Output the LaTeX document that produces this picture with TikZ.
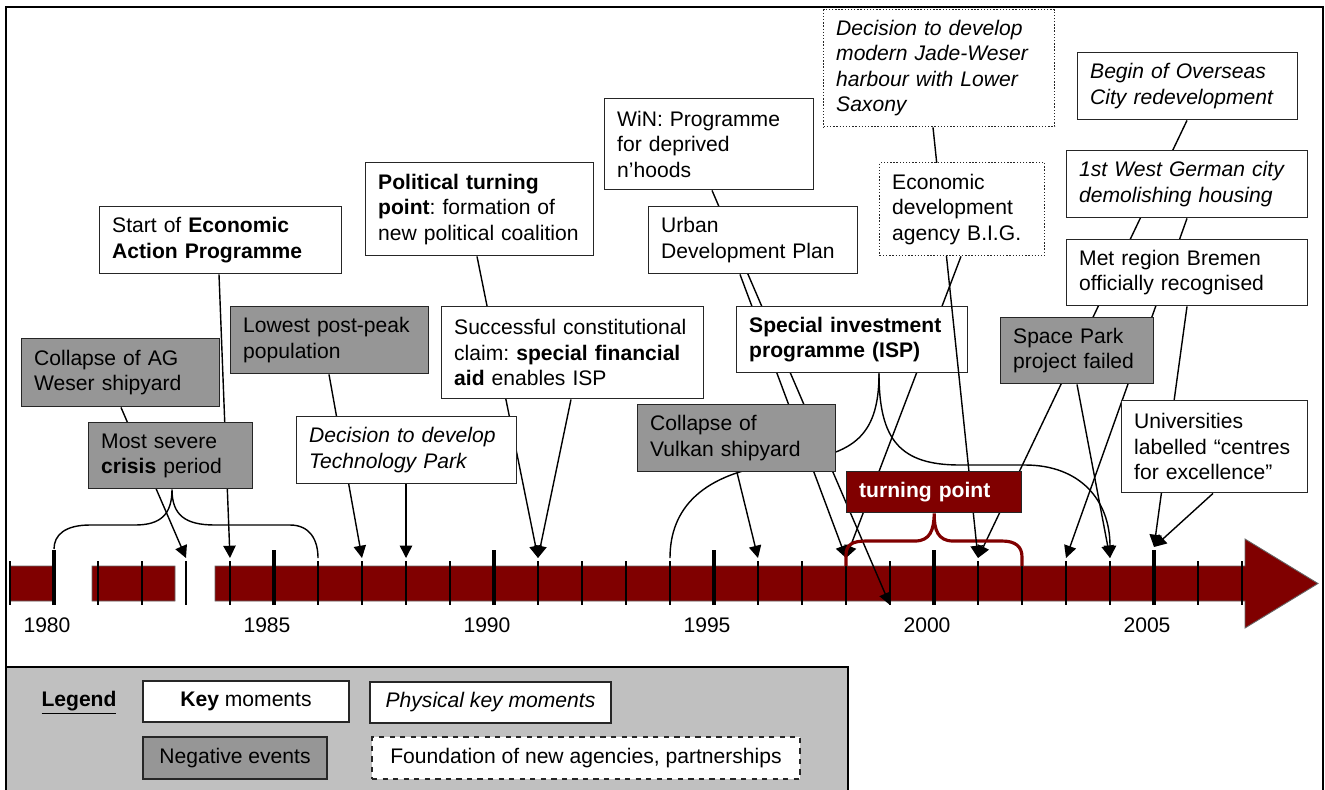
\documentclass[tikz,border=0pt]{standalone}
\usepackage{fontspec}
\setmainfont{Liberation Sans}
\usetikzlibrary{arrows.meta}
\definecolor{barred}{HTML}{800000}
\definecolor{neggray}{HTML}{969696}
\definecolor{legendgray}{HTML}{C0C0C0}
\newcommand{\evtfont}{\frenchspacing\fontsize{12}{14.5}\selectfont}
\pgfdeclarelayer{timeline}
\pgfdeclarelayer{links}
\pgfsetlayers{timeline,links,main}

\begin{document}
\begin{tikzpicture}[>={Triangle[length=7pt,width=7pt]}, x=0.02cm, y=-0.02cm,
    evt/.style={draw=black!85, line width=0.8pt, anchor=north west, align=left,
      inner xsep=0.25cm, inner ysep=0pt, font=\evtfont},
    keybox/.style={evt, fill=white},
    physbox/.style={evt, fill=white, font=\evtfont\itshape},
    negbox/.style={evt, fill=neggray},
    agencybox/.style={evt, fill=white, densely dotted},
    turnbox/.style={evt, fill=barred, text=white, font=\evtfont\bfseries},
    sz/.style 2 args={text width=#1cm, minimum height=#2cm},
    link/.style={line width=0.8pt},
    turnbrace/.style={draw=barred, line width=1.8pt},
    yeartick/.style={line width=1.3pt},
    bigyeartick/.style={line width=2.6pt},
    yearlabel/.style={font=\evtfont}]

  \useasboundingbox (0,0) rectangle (1325,789);

  \begin{pgfonlayer}{timeline}
    \filldraw[fill=legendgray, draw=black, line width=0.8pt] (6,667) rectangle (848,800);
    \draw[line width=1.2pt] (6,7) rectangle (1323,800);
    \filldraw[fill=barred, draw=black!60, line width=0.5pt]
      (10,566) rectangle (54,601)
      (92,566) rectangle (175,601)
      (215,566) -- (1245,566) -- (1245,539) -- (1318,583.5) -- (1245,628) -- (1245,601) -- (215,601) -- cycle;
    \foreach \yr in {1979,...,2007} {
      \coordinate (top\yr) at ({54+44*(\yr-1980)},558);
      \coordinate (bot\yr) at ({54+44*(\yr-1980)},605);
      \coordinate (on\yr) at ({54+44*(\yr-1980)},566);
      \draw[yeartick] ({54+44*(\yr-1980)},561) -- (bot\yr);
    }
    \foreach \yr in {1980,1985,...,2005} {
      \draw[bigyeartick] ({54+44*(\yr-1980)},550) -- (bot\yr);
      \node[yearlabel] (lbl\yr) at ({47+44*(\yr-1980)},625) {\yr};
    }
    \coordinate (top1980) at (54,549);
    \coordinate (top2005) at (1154,547);
  \end{pgfonlayer}

  \node[negbox, sz={3.46}{1.36}] (AG) at (21,338) {Collapse of AG\\Weser shipyard};
  \node[negbox, sz={2.78}{1.32}] (crisis) at (88,422) {Most severe\\\textbf{crisis} period};
  \node[keybox, sz={4.34}{1.34}] (EAP) at (99,206) {Start of \textbf{Economic}\\\textbf{Action Programme}};
  \node[negbox, sz={3.46}{1.34}] (lowest) at (230,306) {Lowest post-peak\\population};
  \node[physbox, sz={3.90}{1.34}] (techpark) at (296,416) {Decision to develop\\Technology Park};
  \node[keybox, sz={4.06}{1.86}] (political) at (365,162) {\textbf{Political turning}\\\textbf{point}: formation of\\new political coalition};
  \node[keybox, sz={3.68}{1.82}] (win) at (604,98) {WiN: Programme\\for deprived\\n’hoods};
  \node[keybox, sz={3.68}{1.34}] (urban) at (648,206) {Urban\\Development Plan};
  \node[keybox, sz={4.74}{1.84}] (successful) at (441,306) {Successful constitutional\\claim: \textbf{special financial}\\\textbf{aid} enables ISP};
  \node[negbox, sz={3.46}{1.34}] (vulkan) at (637,404) {Collapse of\\Vulkan shipyard};
  \node[agencybox, font=\evtfont\itshape, sz={4.12}{2.34}] (jade) at (823,9) {Decision to develop\\modern Jade-Weser\\harbour with Lower\\Saxony};
  \node[physbox, sz={3.90}{1.34}] (overseas) at (1077,52) {Begin of Overseas\\City redevelopment};
  \node[physbox, sz={4.32}{1.34}] (westgerman) at (1066,150) {1st West German city\\demolishing housing};
  \node[keybox, sz={4.32}{1.32}] (metregion) at (1066,239) {Met region Bremen\\officially recognised};
  \node[negbox, sz={2.56}{1.32}] (spacepark) at (1000,317) {Space Park\\project failed};
  \node[keybox, sz={3.22}{1.84}] (universities) at (1121,400) {Universities\\labelled “centres\\for excellence”};
  \node[keybox, sz={4.12}{1.32}] (isp) at (736,306) {\textbf{Special investment}\\\textbf{programme (ISP)}};

  \draw[link,->] (933,0 |- jade.south) -- (top2001);

  \node[agencybox, sz={2.80}{1.86}] (big) at (879,162) {Economic\\development\\agency B.I.G.};
  \node[turnbox, sz={3.00}{0.82}] (turning) at (846,471) {turning point};

  \begin{pgfonlayer}{links}
    \draw[link,->] (121,0 |- AG.south) -- (top1983);
    \draw[link,->] (219,0 |- EAP.south) -- (top1984);
    \draw[link,->] (329,0 |- lowest.south) -- (top1987);
    \draw[link,->] (406,0 |- techpark.south) -- (top1988);
    \draw[link,->] (477,0 |- political.south) -- (top1991);
    \draw[link,->] (571,0 |- successful.south) -- (top1991);
    \draw[link,->] (737,0 |- vulkan.south) -- (top1996);
    \draw[link,->] (740,0 |- urban.south) -- (top1998);
    \draw[link,->] (712,0 |- win.south) -- (bot1999);
    \draw[link,->] (961,0 |- big.south) -- (top1998);
    \draw[link,->] (1187,0 |- overseas.south) -- (top2001);
    \draw[link,->] (1187,0 |- westgerman.south) -- (top2003);
    \draw[link,->] (1077,0 |- spacepark.south) -- (top2004);
    \draw[link,->] (1187,0 |- metregion.south) -- (top2005);
    \draw[link,->] (1213,0 |- universities.south) -- (top2005);

    \draw[link] (top1980) .. controls (54,535) and (65,525) .. (90,525) -- (135,525)
      .. controls (160,525) and (172,515) .. (172,0 |- crisis.south)
      .. controls (172,515) and (185,525) .. (215,525) -- (290,525)
      .. controls (310,525) and (318,540) .. (top1986);

    \draw[link] (879,0 |- isp.south) .. controls (879,440) and (850,455) .. (785,463)
      .. controls (700,472) and (670,510) .. (top1994);
    \draw[link,->] (879,0 |- isp.south) .. controls (879,440) and (900,465) .. (960,465) -- (1025,465)
      .. controls (1080,465) and (1110,500) .. (top2004);

    \draw[turnbrace] (on1998) -- (846,555) .. controls (846,545) and (852,541) .. (866,541) -- (915,541)
      .. controls (930,541) and (934,530) .. (turning.south)
      .. controls (934,530) and (938,541) .. (953,541) -- (1002,541)
      .. controls (1016,541) and (1022,547) .. (1022,557) -- (on2002);
  \end{pgfonlayer}

  \node[font=\evtfont] (lgtitle) at (79,703) {\underline{\textbf{Legend}}};
  \node[keybox, anchor=center, minimum width=4.12cm, minimum height=0.82cm] (lgkey) at (246,701.5) {\textbf{Key} moments};
  \node[physbox, anchor=center, minimum width=4.82cm, minimum height=0.82cm] (lgphys) at (490.5,702.5) {Physical key moments};
  \node[negbox, anchor=center, minimum width=3.68cm, minimum height=0.84cm] (lgneg) at (235,758) {Negative events};
  \node[evt, fill=white, dashed, anchor=center, minimum width=8.56cm, minimum height=0.84cm] (lgagency) at (586,758) {Foundation of new agencies, partnerships};
\end{tikzpicture}
\end{document}
